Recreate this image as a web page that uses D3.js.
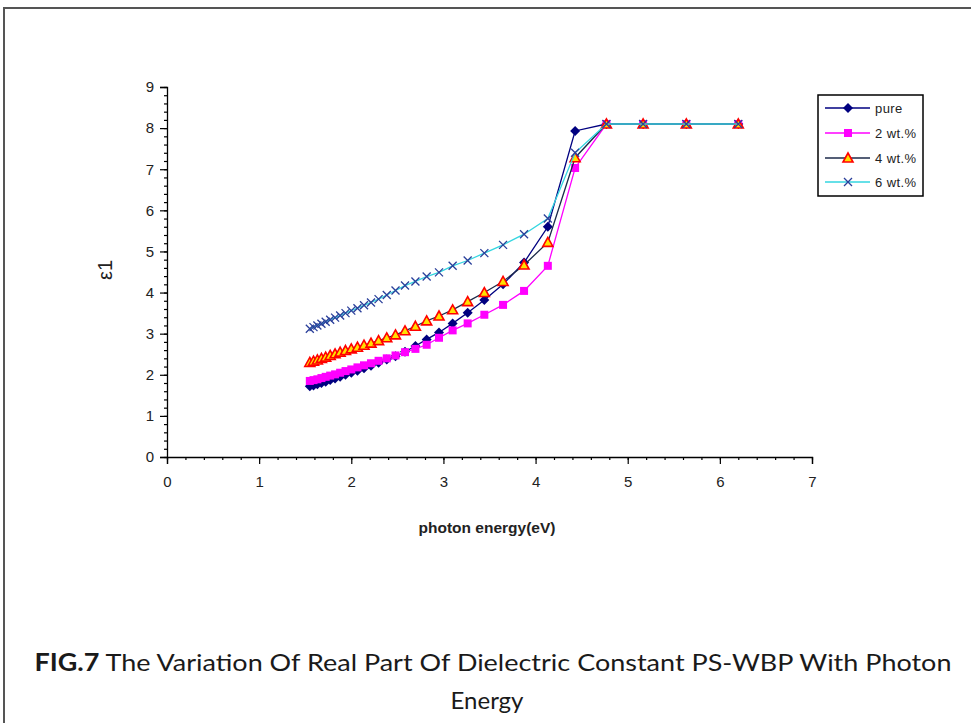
<!DOCTYPE html>
<html><head><meta charset="utf-8">
<script src="https://cdn.jsdelivr.net/npm/d3@7/dist/d3.min.js"></script>
<style>body{margin:0;background:#fff;overflow:hidden}</style>
</head><body>
<svg id="c" width="971" height="723"></svg>
<script>
// photon energy (eV)
const energies = [1.55,1.59,1.632,1.676,1.722,1.771,1.824,1.879,1.9375,2.0,2.067,2.138,2.214,2.296,2.385,2.48,2.583,2.696,2.818,2.952,3.1,3.263,3.444,3.647,3.875,4.133,4.429,4.769,5.167,5.636,6.2];
const pure  = [1.72,1.74,1.77,1.80,1.83,1.87,1.91,1.95,2.00,2.05,2.10,2.16,2.22,2.29,2.37,2.45,2.56,2.70,2.86,3.03,3.25,3.51,3.82,4.20,4.73,5.60,7.93,8.10,8.10,8.10,8.10];
const wt2   = [1.85,1.87,1.89,1.92,1.95,1.98,2.01,2.05,2.09,2.13,2.18,2.23,2.28,2.34,2.40,2.47,2.55,2.63,2.73,2.90,3.08,3.25,3.46,3.70,4.04,4.65,7.03,8.10,8.10,8.10,8.10];
const wt4   = [2.30,2.33,2.36,2.40,2.43,2.47,2.51,2.55,2.59,2.63,2.67,2.72,2.77,2.83,2.90,2.97,3.07,3.18,3.31,3.43,3.58,3.78,4.00,4.27,4.67,5.22,7.28,8.10,8.10,8.10,8.10];
const wt6   = [3.12,3.16,3.20,3.24,3.29,3.34,3.39,3.44,3.50,3.56,3.62,3.69,3.76,3.84,3.94,4.05,4.17,4.27,4.39,4.49,4.65,4.78,4.96,5.16,5.42,5.80,7.40,8.10,8.10,8.10,8.10];
const seriesNames = ["pure","2 wt.%","4 wt.%","6 wt.%"];
const xTicks = [0,1,2,3,4,5,6,7];
const yTicks = [0,1,2,3,4,5,6,7,8,9];
const xTitle = "photon energy(eV)";
const yTitle = "ε1";
const captionLine1Bold = "FIG.7";
const captionLine1 = " The Variation Of Real Part Of Dielectric Constant PS-WBP With Photon";
const captionLine2 = "Energy";

const svg = d3.select("#c");
// outer frame (only top and left visible in reference)
svg.append("rect").attr("x",4).attr("y",8).attr("width",1100).attr("height",1100)
  .attr("fill","#fff").attr("stroke","#555").attr("stroke-width",2);

const x = d3.scaleLinear().domain([0,7]).range([167,812]);
const y = d3.scaleLinear().domain([0,9]).range([457,87]);
const tickFont = "Liberation Sans, Arial";

const gx = svg.append("g").attr("transform","translate(0,457)");
gx.append("g").call(d3.axisBottom(x).tickValues(d3.range(0,7.001,0.2)).tickSize(3).tickFormat(""))
  .call(g=>g.select(".domain").remove());
gx.append("g").call(d3.axisBottom(x).tickValues(xTicks).tickSize(7).tickPadding(12).tickFormat(d3.format("d")))
  .call(g=>g.attr("font-size",15).attr("font-family",tickFont))
  .call(g=>g.selectAll("text").attr("fill","#222"));
const gy = svg.append("g").attr("transform","translate(167,0)");
gy.append("g").call(d3.axisLeft(y).tickValues(d3.range(0,9.001,0.2)).tickSize(3).tickFormat(""))
  .call(g=>g.select(".domain").remove());
gy.append("g").call(d3.axisLeft(y).tickValues(yTicks).tickSize(7).tickPadding(6).tickFormat(d3.format("d")))
  .call(g=>g.attr("font-size",15).attr("font-family",tickFont))
  .call(g=>g.selectAll("text").attr("fill","#222"));
svg.selectAll(".domain").attr("stroke","#000").attr("stroke-width",1.3);
svg.selectAll(".tick line").attr("stroke","#000").attr("stroke-width",1.2);

svg.append("text").attr("x",487).attr("y",533).attr("text-anchor","middle")
  .attr("font-family",tickFont).attr("font-weight","bold").attr("font-size",15.5).attr("fill","#222").text(xTitle);
svg.append("text").attr("transform","translate(112,270) rotate(-90)").attr("text-anchor","middle")
  .attr("font-family",tickFont).attr("font-size",20).attr("fill","#222").text(yTitle);

const styles = [
  {vals:pure, line:"#000080", marker:"diamond"},
  {vals:wt2,  line:"#FF00FF", marker:"square"},
  {vals:wt4,  line:"#1c2a4a", marker:"triangle"},
  {vals:wt6,  line:"#33D6E0", marker:"cross"}
];
const line = d3.line().x(d=>x(d[0])).y(d=>y(d[1]));

function drawMarker(g, type, cx, cy){
  if(type==="diamond"){
    g.append("path").attr("d",`M${cx},${cy-5}L${cx+5},${cy}L${cx},${cy+5}L${cx-5},${cy}Z`).attr("fill","#000080");
  } else if(type==="square"){
    g.append("rect").attr("x",cx-4).attr("y",cy-4).attr("width",8).attr("height",8).attr("fill","#FF00FF");
  } else if(type==="triangle"){
    g.append("path").attr("d",`M${cx},${cy-5}L${cx+5},${cy+4}L${cx-5},${cy+4}Z`).attr("fill","#FFE000").attr("stroke","#FF0000").attr("stroke-width",1.6);
  } else {
    g.append("path").attr("d",`M${cx-4},${cy-4}L${cx+4},${cy+4}M${cx-4},${cy+4}L${cx+4},${cy-4}`).attr("stroke","#2a3f9a").attr("stroke-width",1.3).attr("fill","none");
  }
}

styles.forEach(s=>{
  const pts = energies.map((e,i)=>[e,s.vals[i]]);
  svg.append("path").datum(pts).attr("d",line).attr("fill","none").attr("stroke",s.line).attr("stroke-width",1.3);
  const g = svg.append("g");
  pts.forEach(p=>drawMarker(g,s.marker,x(p[0]),y(p[1])));
});

// legend
svg.append("rect").attr("x",818).attr("y",95).attr("width",105).attr("height",101)
  .attr("fill","#fff").attr("stroke","#000").attr("stroke-width",1.5);
const legY = [108,133,158,182];
seriesNames.forEach((n,i)=>{
  const ly = legY[i];
  svg.append("line").attr("x1",825).attr("x2",870).attr("y1",ly).attr("y2",ly).attr("stroke",styles[i].line).attr("stroke-width",1.3);
  drawMarker(svg.append("g"), styles[i].marker, 848, ly);
  svg.append("text").attr("x",875).attr("y",ly+4.5).attr("font-family",tickFont).attr("font-size",13).attr("letter-spacing",0.4).attr("fill","#222").text(n);
});

// caption
const cap = svg.append("text").attr("x",493).attr("y",671).attr("text-anchor","middle")
  .attr("font-family","Lato, Open Sans").attr("font-size",24).attr("fill","#1a1a1a")
  .attr("textLength",917).attr("lengthAdjust","spacingAndGlyphs");
cap.append("tspan").attr("font-weight","bold").text(captionLine1Bold);
cap.append("tspan").text(captionLine1);
svg.append("text").attr("x",487).attr("y",709).attr("text-anchor","middle")
  .attr("font-family","Lato, Open Sans").attr("font-size",24).attr("fill","#1a1a1a").text(captionLine2);
</script>
</body></html>
